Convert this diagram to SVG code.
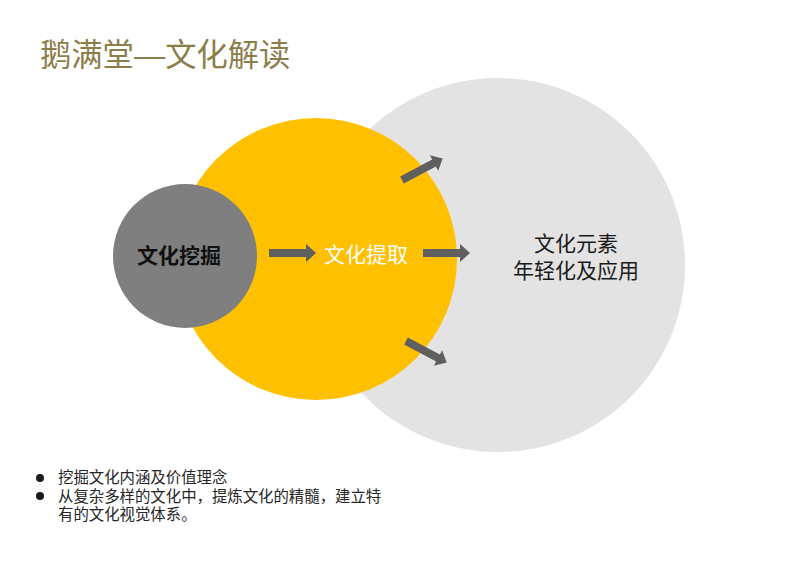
<svg xmlns="http://www.w3.org/2000/svg" width="794" height="587" viewBox="0 0 794 587">
<style>
text{font-family:"Liberation Sans","Noto Sans CJK SC",sans-serif}
.arr{fill:#5f5f5f}
.lbl{font-size:21px;text-anchor:middle;dominant-baseline:central}
.bul{font-size:15.4px;fill:#262626}
</style>
<defs>
<path id="arrow" d="M0,-4 L37,-4 L37,-9 L47,0 L37,9 L37,4 L0,4 Z"/>
</defs>
<rect width="794" height="587" fill="#ffffff"/>
<text x="40" y="66" font-size="31.3" fill="#8c7e4b">鹅满堂—文化解读</text>
<g id="node-elements">
<circle cx="498" cy="265" r="187" fill="#e3e3e3"/>
<text class="lbl" x="576" y="243" fill="#1a1a1a">文化元素</text>
<text class="lbl" x="576" y="270" fill="#1a1a1a">年轻化及应用</text>
</g>
<g id="node-extract">
<circle cx="316" cy="259" r="141" fill="#ffc000"/>
<text class="lbl" x="366" y="254" fill="#ffffff">文化提取</text>
</g>
<g id="node-mining">
<circle cx="185" cy="256" r="72" fill="#7f7f7f"/>
<text class="lbl" x="179" y="255" fill="#111111" font-weight="bold">文化挖掘</text>
</g>
<g id="connectors" class="arr">
<use href="#arrow" transform="translate(269,253)"/>
<use href="#arrow" transform="translate(423,253)"/>
<use href="#arrow" transform="translate(402,180) rotate(-28) scale(0.98)"/>
<use href="#arrow" transform="translate(406,341) rotate(28) scale(0.98)"/>
</g>
<g id="bullets">
<circle cx="40" cy="478" r="4" fill="#1a1a1a"/>
<circle cx="40" cy="496" r="4" fill="#1a1a1a"/>
<text class="bul" x="58" y="483">挖掘文化内涵及价值理念</text>
<text class="bul" x="58" y="502">从复杂多样的文化中，提炼文化的精髓，建立特</text>
<text class="bul" x="58" y="520">有的文化视觉体系。</text>
</g>
</svg>
